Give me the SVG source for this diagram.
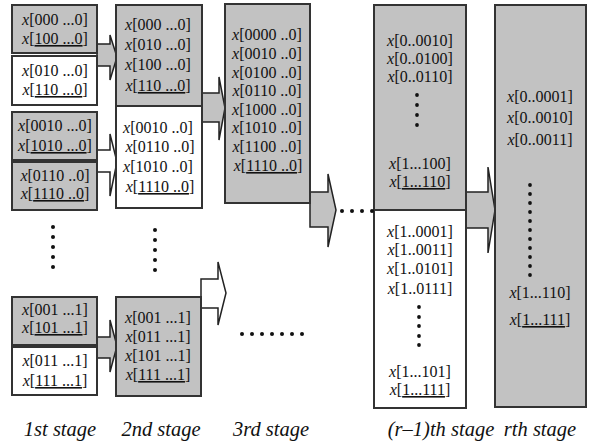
<svg xmlns="http://www.w3.org/2000/svg" width="592" height="444" viewBox="0 0 592 444">
<style>
.g{fill:#c2c2c2;stroke:#333;stroke-width:2}
.w{fill:#fff;stroke:#333;stroke-width:2}
.ag{fill:#c2c2c2;stroke:#222;stroke-width:1.5;stroke-linejoin:miter}
.aw{fill:#fff;stroke:#222;stroke-width:1.5;stroke-linejoin:miter}
text{font-family:'Liberation Serif','DejaVu Serif',serif;font-size:16px;fill:#111;text-anchor:middle}
.i{font-style:italic}
.u{text-decoration:underline}
.lab{font-size:20.5px;font-style:italic}
.d{fill:#111}
</style>
<rect width="592" height="444" fill="#fff"/>

<g id="connectors">
<polygon class="ag" points="97,44 110,44 110,35 117,57 110,80 110,66 97,66"/>
<polygon class="aw" points="97,150 110,150 110,134 117,162 110,196 110,172 97,172"/>
<polygon class="ag" points="97,337 110,337 110,320 117,346 110,372 110,358 97,358"/>
<polygon class="ag" points="202,93 219,93 219,77 225,108 219,140 219,122 202,122"/>
<polygon class="aw" points="201,279 218,279 218,262 226,293 218,325 218,308 201,308"/>
<polygon class="ag" points="310,192 328,192 328,174 336,210 328,247 328,227 310,227"/>
<polygon class="ag" points="466,192 488,192 488,167 495,210 488,253 488,228 466,228"/>
</g>

<g id="s1a">
<rect class="g" x="12" y="5" width="85" height="48"/>
<text x="55" y="25"><tspan class="i">x</tspan>[000 ...0]</text>
<text x="55" y="44"><tspan class="i">x</tspan>[<tspan class="u">100 ...0</tspan>]</text>
</g>
<g id="s1b">
<rect class="w" x="12" y="56" width="85" height="49"/>
<text x="55" y="76"><tspan class="i">x</tspan>[010 ...0]</text>
<text x="55" y="95"><tspan class="i">x</tspan>[<tspan class="u">110 ...0</tspan>]</text>
</g>
<g id="s1c">
<rect class="g" x="12" y="112" width="85" height="48"/>
<text x="55" y="131"><tspan class="i">x</tspan>[0010 ...0]</text>
<text x="55" y="151"><tspan class="i">x</tspan>[<tspan class="u">1010 ...0</tspan>]</text>
</g>
<g id="s1d">
<rect class="g" x="12" y="162" width="85" height="48"/>
<text x="55" y="181"><tspan class="i">x</tspan>[0110 ..0]</text>
<text x="55" y="199"><tspan class="i">x</tspan>[<tspan class="u">1110 ..0</tspan>]</text>
</g>
<g id="s1e">
<rect class="g" x="12" y="297" width="85" height="48"/>
<text x="55" y="315"><tspan class="i">x</tspan>[001 ...1]</text>
<text x="55" y="333"><tspan class="i">x</tspan>[<tspan class="u">101 ...1</tspan>]</text>
</g>
<g id="s1f">
<rect class="w" x="12" y="347" width="85" height="48"/>
<text x="55" y="366"><tspan class="i">x</tspan>[011 ...1]</text>
<text x="55" y="386"><tspan class="i">x</tspan>[<tspan class="u">111 ...1</tspan>]</text>
</g>

<g id="s2a">
<rect class="g" x="116" y="5" width="86" height="101"/>
<text x="158" y="30"><tspan class="i">x</tspan>[000 ...0]</text>
<text x="158" y="50"><tspan class="i">x</tspan>[010 ...0]</text>
<text x="158" y="70"><tspan class="i">x</tspan>[100 ...0]</text>
<text x="158" y="91"><tspan class="i">x</tspan>[<tspan class="u">110 ...0</tspan>]</text>
</g>
<g id="s2b">
<rect class="w" x="116" y="106" width="86" height="102"/>
<text x="158" y="133"><tspan class="i">x</tspan>[0010 ..0]</text>
<text x="160" y="152"><tspan class="i">x</tspan>[0110 ..0]</text>
<text x="158" y="172"><tspan class="i">x</tspan>[1010 ..0]</text>
<text x="160" y="192"><tspan class="i">x</tspan>[<tspan class="u">1110 ..0</tspan>]</text>
</g>
<g id="s2c">
<rect class="g" x="116" y="297" width="85" height="99"/>
<text x="158" y="323"><tspan class="i">x</tspan>[001 ...1]</text>
<text x="158" y="342"><tspan class="i">x</tspan>[011 ...1]</text>
<text x="158" y="361"><tspan class="i">x</tspan>[101 ...1]</text>
<text x="158" y="380"><tspan class="i">x</tspan>[<tspan class="u">111 ...1</tspan>]</text>
</g>

<g id="s3">
<rect class="g" x="225" y="4" width="85" height="199"/>
<text x="267" y="40"><tspan class="i">x</tspan>[0000 ..0]</text>
<text x="267" y="59"><tspan class="i">x</tspan>[0010 ..0]</text>
<text x="267" y="78"><tspan class="i">x</tspan>[0100 ..0]</text>
<text x="267" y="96"><tspan class="i">x</tspan>[0110 ..0]</text>
<text x="267" y="115"><tspan class="i">x</tspan>[1000 ..0]</text>
<text x="267" y="133"><tspan class="i">x</tspan>[1010 ..0]</text>
<text x="267" y="152"><tspan class="i">x</tspan>[1100 ..0]</text>
<text x="268" y="171"><tspan class="i">x</tspan>[<tspan class="u">1110 ..0</tspan>]</text>
</g>

<g id="srm1a">
<rect class="g" x="374" y="5" width="92" height="205"/>
<text x="420" y="46"><tspan class="i">x</tspan>[0..0010]</text>
<text x="420" y="64"><tspan class="i">x</tspan>[0..0100]</text>
<text x="420" y="82"><tspan class="i">x</tspan>[0..0110]</text>
<circle class="d" cx="417" cy="95" r="1.9"/><circle class="d" cx="417" cy="105" r="1.9"/><circle class="d" cx="417" cy="115" r="1.9"/><circle class="d" cx="417" cy="125" r="1.9"/>
<text x="420" y="169"><tspan class="i">x</tspan>[1...100]</text>
<text x="420" y="187"><tspan class="i">x</tspan>[<tspan class="u">1...110</tspan>]</text>
</g>
<g id="srm1b">
<rect class="w" x="374" y="210" width="92" height="198"/>
<text x="420" y="237"><tspan class="i">x</tspan>[1..0001]</text>
<text x="420" y="255"><tspan class="i">x</tspan>[1..0011]</text>
<text x="420" y="274"><tspan class="i">x</tspan>[1..0101]</text>
<text x="420" y="294"><tspan class="i">x</tspan>[1..0111]</text>
<circle class="d" cx="419" cy="307" r="1.9"/><circle class="d" cx="419" cy="317" r="1.9"/><circle class="d" cx="419" cy="326" r="1.9"/><circle class="d" cx="419" cy="336" r="1.9"/><circle class="d" cx="419" cy="345" r="1.9"/>
<text x="420" y="377"><tspan class="i">x</tspan>[1...101]</text>
<text x="420" y="395"><tspan class="i">x</tspan>[<tspan class="u">1...111</tspan>]</text>
</g>

<g id="sr">
<rect class="g" x="495" y="5" width="91" height="402"/>
<text x="540" y="102"><tspan class="i">x</tspan>[0..0001]</text>
<text x="540" y="123"><tspan class="i">x</tspan>[0..0010]</text>
<text x="540" y="145"><tspan class="i">x</tspan>[0..0011]</text>
<circle class="d" cx="530" cy="185" r="1.9"/><circle class="d" cx="530" cy="194" r="1.9"/><circle class="d" cx="530" cy="203" r="1.9"/><circle class="d" cx="530" cy="212" r="1.9"/><circle class="d" cx="530" cy="221" r="1.9"/><circle class="d" cx="530" cy="230" r="1.9"/><circle class="d" cx="530" cy="239" r="1.9"/><circle class="d" cx="530" cy="248" r="1.9"/><circle class="d" cx="530" cy="257" r="1.9"/><circle class="d" cx="530" cy="266" r="1.9"/><circle class="d" cx="530" cy="275" r="1.9"/>
<text x="540" y="298"><tspan class="i">x</tspan>[1...110]</text>
<text x="540" y="325"><tspan class="i">x</tspan>[<tspan class="u">1...111</tspan>]</text>
</g>

<g id="ellipses">
<circle class="d" cx="53" cy="227" r="2"/><circle class="d" cx="53" cy="237" r="2"/><circle class="d" cx="53" cy="247" r="2"/><circle class="d" cx="53" cy="257" r="2"/><circle class="d" cx="53" cy="267" r="2"/>
<circle class="d" cx="155" cy="230" r="2"/><circle class="d" cx="155" cy="240" r="2"/><circle class="d" cx="155" cy="250" r="2"/><circle class="d" cx="155" cy="260" r="2"/><circle class="d" cx="155" cy="270" r="2"/>
<circle class="d" cx="242" cy="334" r="2"/><circle class="d" cx="252" cy="334" r="2"/><circle class="d" cx="262" cy="334" r="2"/><circle class="d" cx="272" cy="334" r="2"/><circle class="d" cx="282" cy="334" r="2"/><circle class="d" cx="292" cy="334" r="2"/><circle class="d" cx="302" cy="334" r="2"/>
<circle class="d" cx="342" cy="211" r="2"/><circle class="d" cx="352" cy="211" r="2"/><circle class="d" cx="362" cy="211" r="2"/><circle class="d" cx="372" cy="211" r="2"/>
</g>

<g id="labels">
<text class="lab" x="60" y="436">1st stage</text>
<text class="lab" x="161" y="436">2nd stage</text>
<text class="lab" x="271" y="436">3rd stage</text>
<text class="lab" x="441" y="436">(r–1)th stage</text>
<text class="lab" x="540" y="436">rth stage</text>
</g>
</svg>
